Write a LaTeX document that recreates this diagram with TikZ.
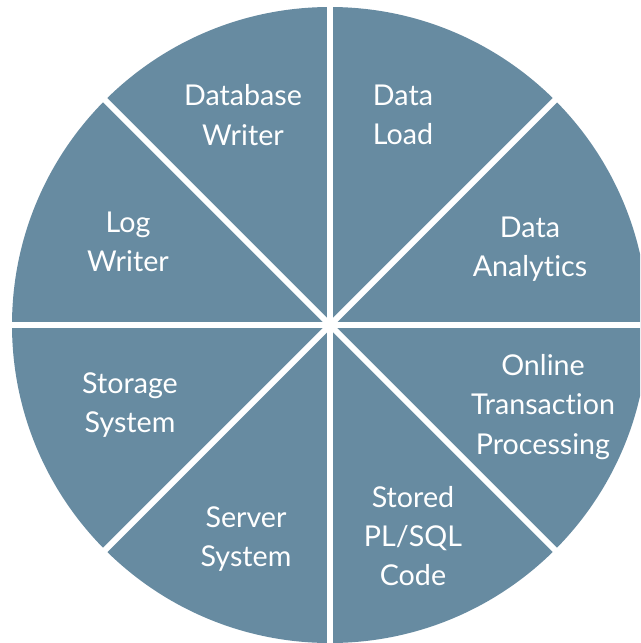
\documentclass[tikz,border=0pt]{standalone}
\usepackage{fontspec}
\setmainfont{Lato}[Ligatures={NoCommon}]
\usepackage{tikz}
\tikzset{every picture/.style={line width=0.75pt}}
\definecolor{slate}{RGB}{103,139,161}
\tikzset{
  spoke/.style={color=white, line width=4.5pt},
  label/.style={text=white, align=center, font=\fontsize{21.5}{29.5}\selectfont}
}

\begin{document}
\begin{tikzpicture}[x=0.75pt,y=0.75pt,yscale=-1,xscale=1]
		\useasboundingbox (0,0) rectangle (640,643);
		\clip (0,0) rectangle (640,643);
		
		%Shape: Circle [id:center] 
		\coordinate (c) at (330,325);
		\fill [color=slate] (c) circle [radius=318];
		
		%Straight Lines [id:spokes] 
		\draw [spoke] (c) -- +(0:330) ;
		\draw [spoke] (c) -- +(45:330) ;
		\draw [spoke] (c) -- +(90:330) ;
		\draw [spoke] (c) -- +(135:330) ;
		\draw [spoke] (c) -- +(180:330) ;
		\draw [spoke] (c) -- +(225:330) ;
		\draw [spoke] (c) -- +(270:330) ;
		\draw [spoke] (c) -- +(315:330) ;
		
		%Text: sector labels 
		\node [label] (dbw) at (243,115) {Database\\Writer};
		\node [label] (load) at (403,115) {Data\\Load};
		\node [label] (logw) at (128,242) {Log\\Writer};
		\node [label] (anal) at (530,249) {Data\\Analytics};
		\node [label] (stor) at (130,405) {Storage\\System};
		\node [label] (oltp) at (543,407) {Online\\Transaction\\Processing};
		\node [label] (serv) at (246,539) {Server\\System};
		\node [label] (plsql) at (413,536) {Stored\\PL/SQL\\Code};
		
\end{tikzpicture}
\end{document}
